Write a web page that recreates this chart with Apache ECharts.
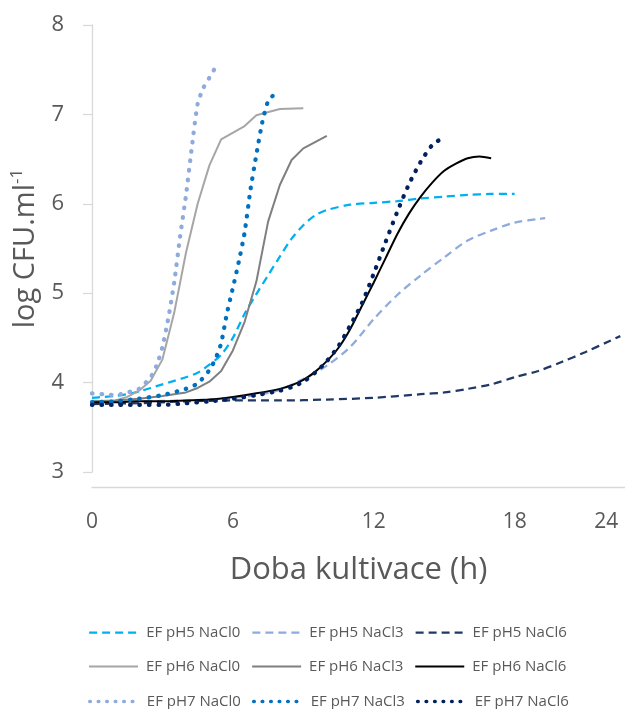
<!DOCTYPE html>
<html>
<head>
<meta charset="utf-8">
<script src="https://cdn.jsdelivr.net/npm/echarts@6/dist/echarts.min.js"></script>
<style>
  html, body { margin: 0; padding: 0; background: #ffffff; }
  #chart { width: 625px; height: 709px; }
</style>
</head>
<body>
<div id="chart"></div>
<script>
// Growth curves of EF at pH 5/6/7 and NaCl 0/3/6 % — log CFU per ml over cultivation time (h)

const seriesNames = [
  'EF pH5 NaCl0', 'EF pH5 NaCl3', 'EF pH5 NaCl6',
  'EF pH6 NaCl0', 'EF pH6 NaCl3', 'EF pH6 NaCl6',
  'EF pH7 NaCl0', 'EF pH7 NaCl3', 'EF pH7 NaCl6'
];

// x-axis tick labels and the hours they sit at
const xTickLabels = ['0', '6', '12', '18', '24'];
const xTickHours = [0, 6, 12, 18, 21.9];

// pH 5
const tPH5NaCl0 = [0, 0.5, 1, 1.5, 2, 2.5, 3, 3.5, 4, 4.5, 5, 5.5, 6, 6.5, 7, 7.5, 8, 8.5, 9, 9.5, 10, 11, 12, 13, 14, 15, 16, 17, 18];
const yPH5NaCl0 = [3.83, 3.84, 3.85, 3.87, 3.90, 3.94, 3.98, 4.02, 4.06, 4.11, 4.20, 4.31, 4.50, 4.77, 4.99, 5.20, 5.41, 5.61, 5.76, 5.87, 5.93, 5.99, 6.01, 6.03, 6.06, 6.08, 6.10, 6.11, 6.11];

const tPH5NaCl3 = [0, 2, 4, 5, 6, 7, 8, 9, 10, 11, 12, 13, 14, 15, 16, 17, 18, 19, 19.3];
const yPH5NaCl3 = [3.78, 3.79, 3.80, 3.81, 3.83, 3.86, 3.92, 4.04, 4.19, 4.40, 4.71, 4.98, 5.20, 5.40, 5.59, 5.70, 5.79, 5.83, 5.84];

const tPH5NaCl6 = [0, 2, 4, 6, 8, 10, 12, 14, 15, 16, 17, 18, 19, 20, 21, 22, 22.5];
const yPH5NaCl6 = [3.76, 3.77, 3.79, 3.80, 3.80, 3.81, 3.83, 3.87, 3.89, 3.93, 3.98, 4.06, 4.13, 4.23, 4.34, 4.46, 4.52];

// pH 6
const tPH6NaCl0 = [0, 0.5, 1, 1.5, 2, 2.5, 3, 3.5, 4, 4.5, 5, 5.5, 6.5, 7, 8, 9];
const yPH6NaCl0 = [3.79, 3.79, 3.80, 3.84, 3.91, 4.02, 4.26, 4.78, 5.45, 6.00, 6.43, 6.72, 6.87, 6.99, 7.06, 7.07];

const tPH6NaCl3 = [0, 1, 2, 3, 4, 4.5, 5, 5.5, 6, 6.5, 7, 7.5, 8, 8.5, 9, 10];
const yPH6NaCl3 = [3.79, 3.80, 3.82, 3.85, 3.89, 3.94, 4.01, 4.13, 4.36, 4.68, 5.13, 5.80, 6.21, 6.49, 6.62, 6.76];

const tPH6NaCl6 = [0, 1, 2, 3, 4, 5, 6, 7, 8, 8.5, 9, 9.5, 10, 10.5, 11, 11.5, 12, 12.5, 13, 13.5, 14, 14.5, 15, 15.5, 16, 16.5, 17];
const yPH6NaCl6 = [3.78, 3.78, 3.79, 3.79, 3.80, 3.81, 3.84, 3.88, 3.93, 3.97, 4.03, 4.12, 4.24, 4.39, 4.60, 4.86, 5.12, 5.39, 5.66, 5.89, 6.08, 6.24, 6.37, 6.45, 6.51, 6.53, 6.51];

// pH 7
const tPH7NaCl0 = [0, 0.5, 1, 1.5, 2, 2.5, 2.75, 3, 3.25, 3.5, 3.75, 4, 4.25, 4.5, 4.75, 5, 5.2];
const yPH7NaCl0 = [3.88, 3.87, 3.86, 3.89, 3.93, 4.06, 4.19, 4.40, 4.72, 5.12, 5.63, 6.09, 6.63, 7.12, 7.30, 7.41, 7.50];

const tPH7NaCl3 = [0, 1, 2, 3, 4, 4.5, 5, 5.25, 5.5, 5.75, 6, 6.25, 6.5, 6.75, 7, 7.25, 7.5, 7.75];
const yPH7NaCl3 = [3.78, 3.79, 3.82, 3.86, 3.93, 3.99, 4.14, 4.26, 4.44, 4.78, 5.06, 5.35, 5.68, 6.16, 6.55, 6.91, 7.15, 7.22];

const tPH7NaCl6 = [0, 1, 2, 3, 4, 5, 6, 7, 8, 8.5, 9, 9.5, 10, 10.5, 11, 11.5, 12, 12.5, 13, 13.5, 14, 14.5, 14.9];
const yPH7NaCl6 = [3.75, 3.75, 3.75, 3.75, 3.77, 3.79, 3.82, 3.86, 3.91, 3.95, 4.01, 4.11, 4.24, 4.41, 4.64, 4.89, 5.22, 5.57, 5.91, 6.22, 6.47, 6.66, 6.73];

const seriesTimes = [tPH5NaCl0, tPH5NaCl3, tPH5NaCl6, tPH6NaCl0, tPH6NaCl3, tPH6NaCl6, tPH7NaCl0, tPH7NaCl3, tPH7NaCl6];
const seriesValues = [yPH5NaCl0, yPH5NaCl3, yPH5NaCl6, yPH6NaCl0, yPH6NaCl3, yPH6NaCl6, yPH7NaCl0, yPH7NaCl3, yPH7NaCl6];

// line appearance per series
const dashed = { type: [8, 5], width: 2.25, cap: 'butt' };
const solid = { type: 'solid', width: 2 };
const dotted = { type: [0.5, 9], width: 4.3, cap: 'round' };
const seriesStyles = [
  Object.assign({ color: '#00b0f0' }, dashed),
  Object.assign({ color: '#8faadc' }, dashed),
  Object.assign({ color: '#1f3864' }, dashed),
  Object.assign({ color: '#a6a6a6' }, solid),
  Object.assign({ color: '#7f7f7f' }, solid),
  Object.assign({ color: '#000000' }, solid),
  Object.assign({ color: '#8faadc' }, dotted),
  Object.assign({ color: '#0070c0' }, dotted),
  Object.assign({ color: '#002060' }, dotted)
];
const smoothed = [0.3, 0.3, 0.3, false, false, 0.25, 0.2, 0.2, 0.25];

const textColor = '#595959';
const axisColor = '#d9d9d9';
const fontFamily = '"Open Sans", "Noto Sans", sans-serif';

const series = seriesNames.map((name, i) => ({
  name: name,
  type: 'line',
  data: seriesTimes[i].map((t, k) => [t, seriesValues[i][k]]),
  symbol: 'none',
  smooth: smoothed[i],
  lineStyle: seriesStyles[i],
  itemStyle: { color: seriesStyles[i].color },
  z: 2 + i
}));

// three legend rows, three entries each; legend keys show the line only
const legendRowTops = [625, 659, 694];
const legends = legendRowTops.map((top, r) => ({
  data: seriesNames.slice(r * 3, r * 3 + 3).map((name, j) => {
    const st = seriesStyles[r * 3 + j];
    return {
      name: name,
      lineStyle: {
        color: st.color,
        width: st === seriesStyles[6] || r === 2 ? 3.6 : st.width,
        type: r === 2 ? [0.5, 8] : st.type,
        cap: st.cap || 'butt'
      }
    };
  }),
  orient: 'horizontal',
  left: 88,
  top: top,
  padding: 0,
  itemWidth: 49,
  itemHeight: 14,
  itemGap: 11,
  selectedMode: false,
  itemStyle: { opacity: 0 },
  textStyle: { color: textColor, fontSize: 15, fontFamily: fontFamily, padding: [0, 0, 0, 3] }
}));

const chart = echarts.init(document.getElementById('chart'), null, { renderer: 'canvas' });
chart.setOption({
  animation: false,
  backgroundColor: '#ffffff',
  grid: { left: 92, top: 25, width: 533, height: 447, containLabel: false },
  legend: legends,
  xAxis: {
    type: 'value',
    min: 0,
    max: 22.7,
    offset: 15,
    axisLine: { show: true, lineStyle: { color: axisColor, width: 1.3 } },
    axisTick: { show: false },
    splitLine: { show: false },
    axisLabel: {
      customValues: xTickHours,
      formatter: function (value) {
        const k = xTickHours.indexOf(value);
        return k >= 0 ? xTickLabels[k] : '';
      },
      color: textColor,
      fontSize: 21,
      fontFamily: fontFamily,
      margin: 25
    },
    name: 'Doba kultivace (h)',
    nameLocation: 'middle',
    nameGap: 68,
    nameTextStyle: { color: textColor, fontSize: 31, fontFamily: fontFamily }
  },
  yAxis: {
    type: 'value',
    min: 3,
    max: 8,
    interval: 1,
    axisLine: { show: true, lineStyle: { color: axisColor, width: 1.3 } },
    axisTick: { show: true, inside: false, length: 9, lineStyle: { color: axisColor, width: 1.3 } },
    splitLine: { show: false },
    axisLabel: { color: textColor, fontSize: 22, fontFamily: fontFamily, margin: 28 },
    name: '{a|log CFU.ml}{b|-1}',
    nameLocation: 'middle',
    nameGap: 50,
    nameTextStyle: {
      color: textColor,
      fontFamily: fontFamily,
      rich: {
        a: { fontSize: 29, color: textColor, fontFamily: fontFamily, lineHeight: 33 },
        b: { fontSize: 17, color: textColor, fontFamily: fontFamily, verticalAlign: 'top', lineHeight: 33 }
      }
    }
  },
  series: series
});
</script>
</body>
</html>
